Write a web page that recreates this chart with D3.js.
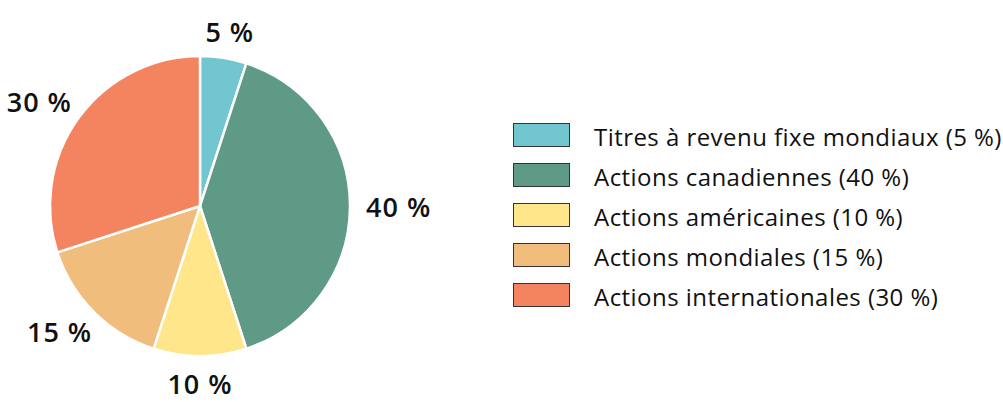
<!DOCTYPE html>
<html><head><meta charset="utf-8">
<script src="https://cdn.jsdelivr.net/npm/d3@7"></script>
<style>body{margin:0;background:#fff}</style>
</head><body>
<svg id="c" width="1003" height="402"></svg>
<script>
const categories = ["Titres à revenu fixe mondiaux", "Actions canadiennes", "Actions américaines", "Actions mondiales", "Actions internationales"];
const values = [5, 40, 10, 15, 30];
const colors = ["#72C6D0", "#5E9A85", "#FFE68A", "#F0BD7D", "#F4835F"];
const fmt = v => v + "\u00a0%";

const svg = d3.select("#c");
const cx = 200, cy = 206, r = 150;
const g = svg.append("g").attr("transform", `translate(${cx},${cy})`);
const pie = d3.pie().sort(null).value(d => d)(values);
const arc = d3.arc().innerRadius(0).outerRadius(r);
const gap = 166;

g.selectAll("path").data(pie).join("path")
  .attr("d", arc).attr("fill", (d,i) => colors[i])
  .attr("stroke", "#fff").attr("stroke-width", 2.5).attr("stroke-linejoin","round");

const labels = g.selectAll("text").data(pie).join("text")
  .attr("text-anchor", "middle").attr("dominant-baseline", "central")
  .style("font-family", "'Open Sans'").style("font-weight", 600)
  .style("font-size", "27px").style("letter-spacing", "1px").attr("fill", "#111")
  .text(d => fmt(d.data));
labels.each(function(d) {
  const bb = this.getBBox();
  const a = (d.startAngle + d.endAngle) / 2;
  const s = Math.sin(a), c = Math.cos(a);
  const x = gap * s + (bb.width / 2) * s;
  const y = -gap * c - (bb.height / 2) * 0.6 * c;
  d3.select(this).attr("x", x).attr("y", y);
});

const lg = svg.append("g").attr("transform", "translate(513,135)");
const rows = lg.selectAll("g").data(categories).join("g")
  .attr("transform", (d,i) => `translate(0,${i*40})`);
rows.append("rect").attr("x", 0.5).attr("y", -11.5).attr("width", 56).attr("height", 23)
  .attr("fill", (d,i) => colors[i]).attr("stroke", "#333").attr("stroke-width", 1);
rows.append("text").attr("x", 81).attr("y", 1).attr("dominant-baseline","central")
  .style("font-family", "'Open Sans'").style("font-size", "24px").style("letter-spacing", "0.45px")
  .attr("fill", "#111")
  .text((d,i) => `${d} (${fmt(values[i])})`);
</script>
</body></html>
